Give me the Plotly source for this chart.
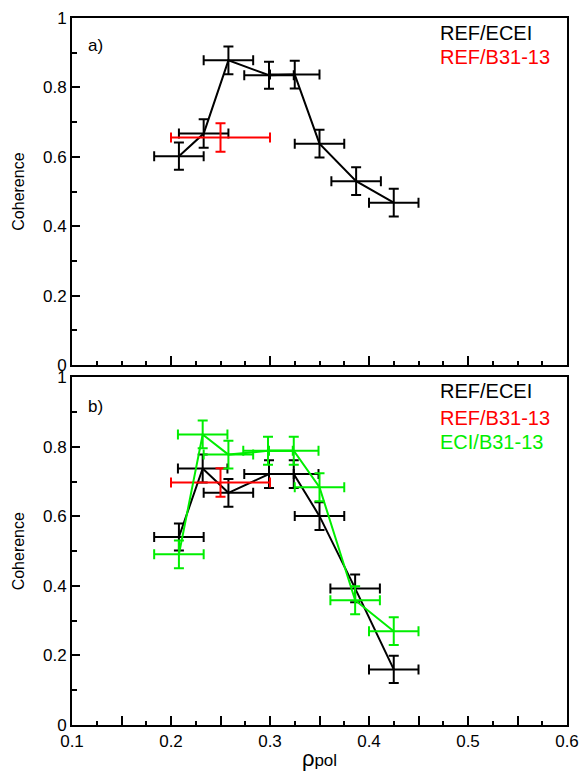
import plotly.graph_objects as go

# ---- data ----
rho_a_ecei = [0.208, 0.233, 0.258, 0.299, 0.325, 0.350, 0.387, 0.425]
coh_a_ecei = [0.602, 0.667, 0.878, 0.835, 0.837, 0.638, 0.530, 0.468]
xerr_a_ecei = [0.025, 0.025, 0.025, 0.025, 0.025, 0.025, 0.025, 0.025]
yerr_a_ecei = [0.039, 0.041, 0.040, 0.039, 0.040, 0.040, 0.040, 0.040]

rho_a_b31 = [0.250]
coh_a_b31 = [0.656]
xerr_a_b31 = [0.050]
yerr_a_b31 = [0.041]

rho_b_ecei = [0.208, 0.232, 0.258, 0.299, 0.324, 0.350, 0.386, 0.425]
coh_b_ecei = [0.541, 0.738, 0.668, 0.722, 0.722, 0.601, 0.393, 0.160]
xerr_b_ecei = [0.025, 0.025, 0.025, 0.025, 0.025, 0.025, 0.025, 0.025]
yerr_b_ecei = [0.039, 0.040, 0.040, 0.040, 0.040, 0.040, 0.040, 0.039]

rho_b_b31 = [0.250]
coh_b_b31 = [0.698]
xerr_b_b31 = [0.050]
yerr_b_b31 = [0.041]

rho_b_eci = [0.208, 0.232, 0.258, 0.298, 0.324, 0.350, 0.386, 0.425]
coh_b_eci = [0.491, 0.836, 0.778, 0.789, 0.789, 0.684, 0.359, 0.270]
xerr_b_eci = [0.025, 0.025, 0.025, 0.025, 0.025, 0.025, 0.025, 0.025]
yerr_b_eci = [0.040, 0.040, 0.040, 0.040, 0.040, 0.040, 0.040, 0.040]

x_tickvals = [0.1, 0.15, 0.2, 0.25, 0.3, 0.35, 0.4, 0.45, 0.5, 0.55, 0.6]
x_ticktext = ["0.1", "", "0.2", "", "0.3", "", "0.4", "", "0.5", "", "0.6"]

legend_a = [("REF/ECEI", "black"), ("REF/B31-13", "#ff0000")]
legend_b = [("REF/ECEI", "black"), ("REF/B31-13", "#ff0000"), ("ECI/B31-13", "#00ee00")]

FONT = "Liberation Sans, Arial, Helvetica, sans-serif"
NARROW = "Liberation Sans Narrow, Liberation Sans, Arial, sans-serif"


def series(x, y, xe, ye, color, xaxis, yaxis):
    return go.Scatter(
        x=x, y=y, mode="lines",
        line=dict(color=color, width=2),
        error_x=dict(type="data", array=xe, visible=True, color=color,
                     thickness=2, width=5),
        error_y=dict(type="data", array=ye, visible=True, color=color,
                     thickness=2, width=5),
        xaxis=xaxis, yaxis=yaxis, showlegend=False, hoverinfo="x+y",
    )


fig = go.Figure()
fig.add_trace(series(rho_a_ecei, coh_a_ecei, xerr_a_ecei, yerr_a_ecei, "black", "x", "y"))
fig.add_trace(series(rho_a_b31, coh_a_b31, xerr_a_b31, yerr_a_b31, "#ff0000", "x", "y"))
fig.add_trace(series(rho_b_ecei, coh_b_ecei, xerr_b_ecei, yerr_b_ecei, "black", "x2", "y2"))
fig.add_trace(series(rho_b_b31, coh_b_b31, xerr_b_b31, yerr_b_b31, "#ff0000", "x2", "y2"))
fig.add_trace(series(rho_b_eci, coh_b_eci, xerr_b_eci, yerr_b_eci, "#00ee00", "x2", "y2"))

xcommon = dict(
    range=[0.1, 0.6], tickmode="array", tickvals=x_tickvals, ticktext=x_ticktext,
    ticks="inside", ticklen=9, tickwidth=1.5, tickcolor="black",
    minor=dict(dtick=0.025, tick0=0.1, ticks="inside", ticklen=4, tickwidth=1.5, tickcolor="black"),
    showline=True, linewidth=2, linecolor="black", mirror=True,
    showgrid=False, zeroline=False, automargin=False,
    tickfont=dict(family=FONT, size=17, color="black"),
)
ycommon = dict(
    range=[0, 1], dtick=0.2, tick0=0,
    ticks="inside", ticklen=8, tickwidth=1.5, tickcolor="black",
    minor=dict(dtick=0.1, ticks="inside", ticklen=5, tickwidth=1.5, tickcolor="black"),
    showline=True, linewidth=2, linecolor="black", mirror=True,
    showgrid=False, zeroline=False, automargin=False,
    tickfont=dict(family=FONT, size=17, color="black"),
    title=dict(text="Coherence", font=dict(family=NARROW, size=16, color="black"), standoff=14),
)

fig.update_layout(
    width=583, height=774,
    margin=dict(l=71.5, r=15.5, t=17.7, b=49),
    paper_bgcolor="white", plot_bgcolor="white",
    font=dict(family=FONT, color="black"),
    xaxis=dict(xcommon, domain=[0, 1], anchor="y", showticklabels=False, matches="x2"),
    yaxis=dict(ycommon, domain=[0.509, 1], anchor="x"),
    xaxis2=dict(xcommon, domain=[0, 1], anchor="y2",
                title=dict(text="<span style='font-size:22px'>ρ</span>pol",
                           font=dict(family=NARROW, size=17, color="black"), standoff=4)),
    yaxis2=dict(ycommon, domain=[0, 0.4916], anchor="x2"),
)

# legends as coloured text
ya = [0.956, 0.887]
for (txt, col), yy in zip(legend_a, ya):
    fig.add_annotation(text=txt, xref="x domain", yref="y domain", x=0.7395, y=yy,
                       xanchor="left", yanchor="middle", showarrow=False,
                       font=dict(family=FONT, size=20, color=col))
yb = [0.9606, 0.884, 0.815]
for (txt, col), yy in zip(legend_b, yb):
    fig.add_annotation(text=txt, xref="x2 domain", yref="y2 domain", x=0.7395, y=yy,
                       xanchor="left", yanchor="middle", showarrow=False,
                       font=dict(family=FONT, size=20, color=col))

fig.add_annotation(text="a)", xref="x domain", yref="y domain", x=0.029, y=0.921,
                   xanchor="left", yanchor="middle", showarrow=False,
                   font=dict(family=FONT, size=17, color="black"))
fig.add_annotation(text="b)", xref="x2 domain", yref="y2 domain", x=0.029, y=0.915,
                   xanchor="left", yanchor="middle", showarrow=False,
                   font=dict(family=FONT, size=17, color="black"))

fig.write_html("out.html", config={"displayModeBar": False},
               post_script="document.body.style.margin='0';document.body.style.overflow='hidden';")
